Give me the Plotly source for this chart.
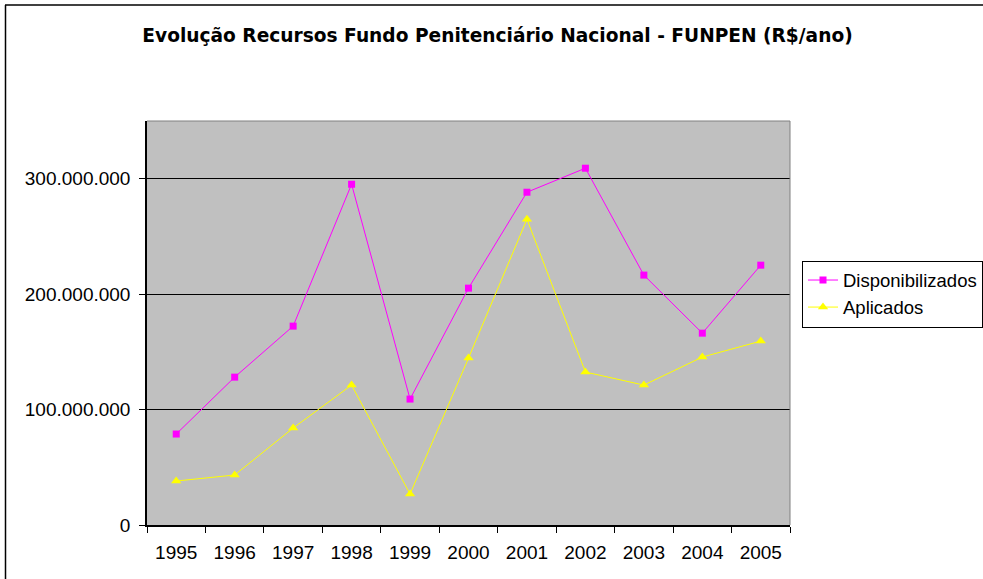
import plotly.graph_objects as go

years = ["1995", "1996", "1997", "1998", "1999", "2000", "2001", "2002", "2003", "2004", "2005"]
disponibilizados = [78.8e6, 128.1e6, 172.3e6, 295.2e6, 109.1e6, 205.2e6, 288.3e6, 309.1e6, 216.5e6, 166.2e6, 225.1e6]
aplicados = [38.1e6, 43.3e6, 84.0e6, 121.2e6, 26.8e6, 144.6e6, 264.9e6, 132.5e6, 121.2e6, 145.5e6, 159.3e6]
y_tickvals = [0, 100e6, 200e6, 300e6]
y_ticktext = ["0", "100.000.000", "200.000.000", "300.000.000"]
title_text = "Evolução Recursos Fundo Penitenciário Nacional - FUNPEN (R$/ano)"

W, H = 983, 579
L, R, T, B = 147, 790, 121, 525

fig = go.Figure()
fig.add_trace(go.Scatter(
    x=years, y=disponibilizados, name="Disponibilizados", mode="lines+markers",
    line=dict(color="#FF00FF", width=1),
    marker=dict(symbol="square", size=7, color="#FF00FF"),
))
fig.add_trace(go.Scatter(
    x=years, y=aplicados, name="Aplicados", mode="lines+markers",
    line=dict(color="#FFFF00", width=1),
    marker=dict(symbol="triangle-up", size=9, color="#FFFF00"),
))

pw = R - L
ph = B - T
def px(x):
    return (x - L) / pw
def py(y):
    return (B - y) / ph

shapes = [
    dict(type="line", xref="paper", yref="paper", x0=0, x1=1, y0=1, y1=1,
         line=dict(color="#808080", width=1)),
    dict(type="line", xref="paper", yref="paper", x0=1, x1=1, y0=0, y1=1,
         line=dict(color="#808080", width=1)),
    dict(type="line", xref="paper", yref="paper", x0=px(5), x1=px(990), y0=py(5), y1=py(5),
         line=dict(color="black", width=1.5)),
    dict(type="line", xref="paper", yref="paper", x0=px(5.5), x1=px(5.5), y0=py(5), y1=py(590),
         line=dict(color="black", width=1.5)),
]

fig.update_layout(
    width=W, height=H,
    margin=dict(l=L, r=W - R, t=T, b=H - B, pad=0, autoexpand=False),
    paper_bgcolor="white",
    plot_bgcolor="#C0C0C0",
    font=dict(family="Liberation Sans, Arial", size=19, color="black"),
    title=dict(text="<b>" + title_text + "</b>", x=px(497.5), xref="paper", xanchor="center",
               y=1 - 35 / H, yref="container", yanchor="middle",
               font=dict(size=18.6, family="DejaVu Sans", color="black")),
    showlegend=True,
    legend=dict(x=px(802), y=py(294), xanchor="left", yanchor="middle",
                bordercolor="black", borderwidth=1, bgcolor="white",
                font=dict(size=18.5), tracegroupgap=0, itemwidth=30),
    shapes=shapes,
    xaxis=dict(type="category", range=[-0.5, len(years) - 0.5],
               tickson="boundaries", ticks="outside", ticklen=6,
               tickcolor="black", showline=True, linecolor="black", linewidth=1.5,
               showgrid=False, zeroline=False, tickfont=dict(size=19),
               ticklabelstandoff=9),
    yaxis=dict(range=[0, 350e6], tickvals=y_tickvals, ticktext=y_ticktext,
               ticks="outside", ticklen=6, tickcolor="black",
               showline=True, linecolor="black", linewidth=1.5,
               showgrid=True, gridcolor="black", gridwidth=1, zeroline=False,
               tickfont=dict(size=19), ticklabelstandoff=5),
)

fig.write_html("out.html", config={"displayModeBar": False},
               post_script="document.body.style.margin='0';document.body.style.overflow='hidden';")
